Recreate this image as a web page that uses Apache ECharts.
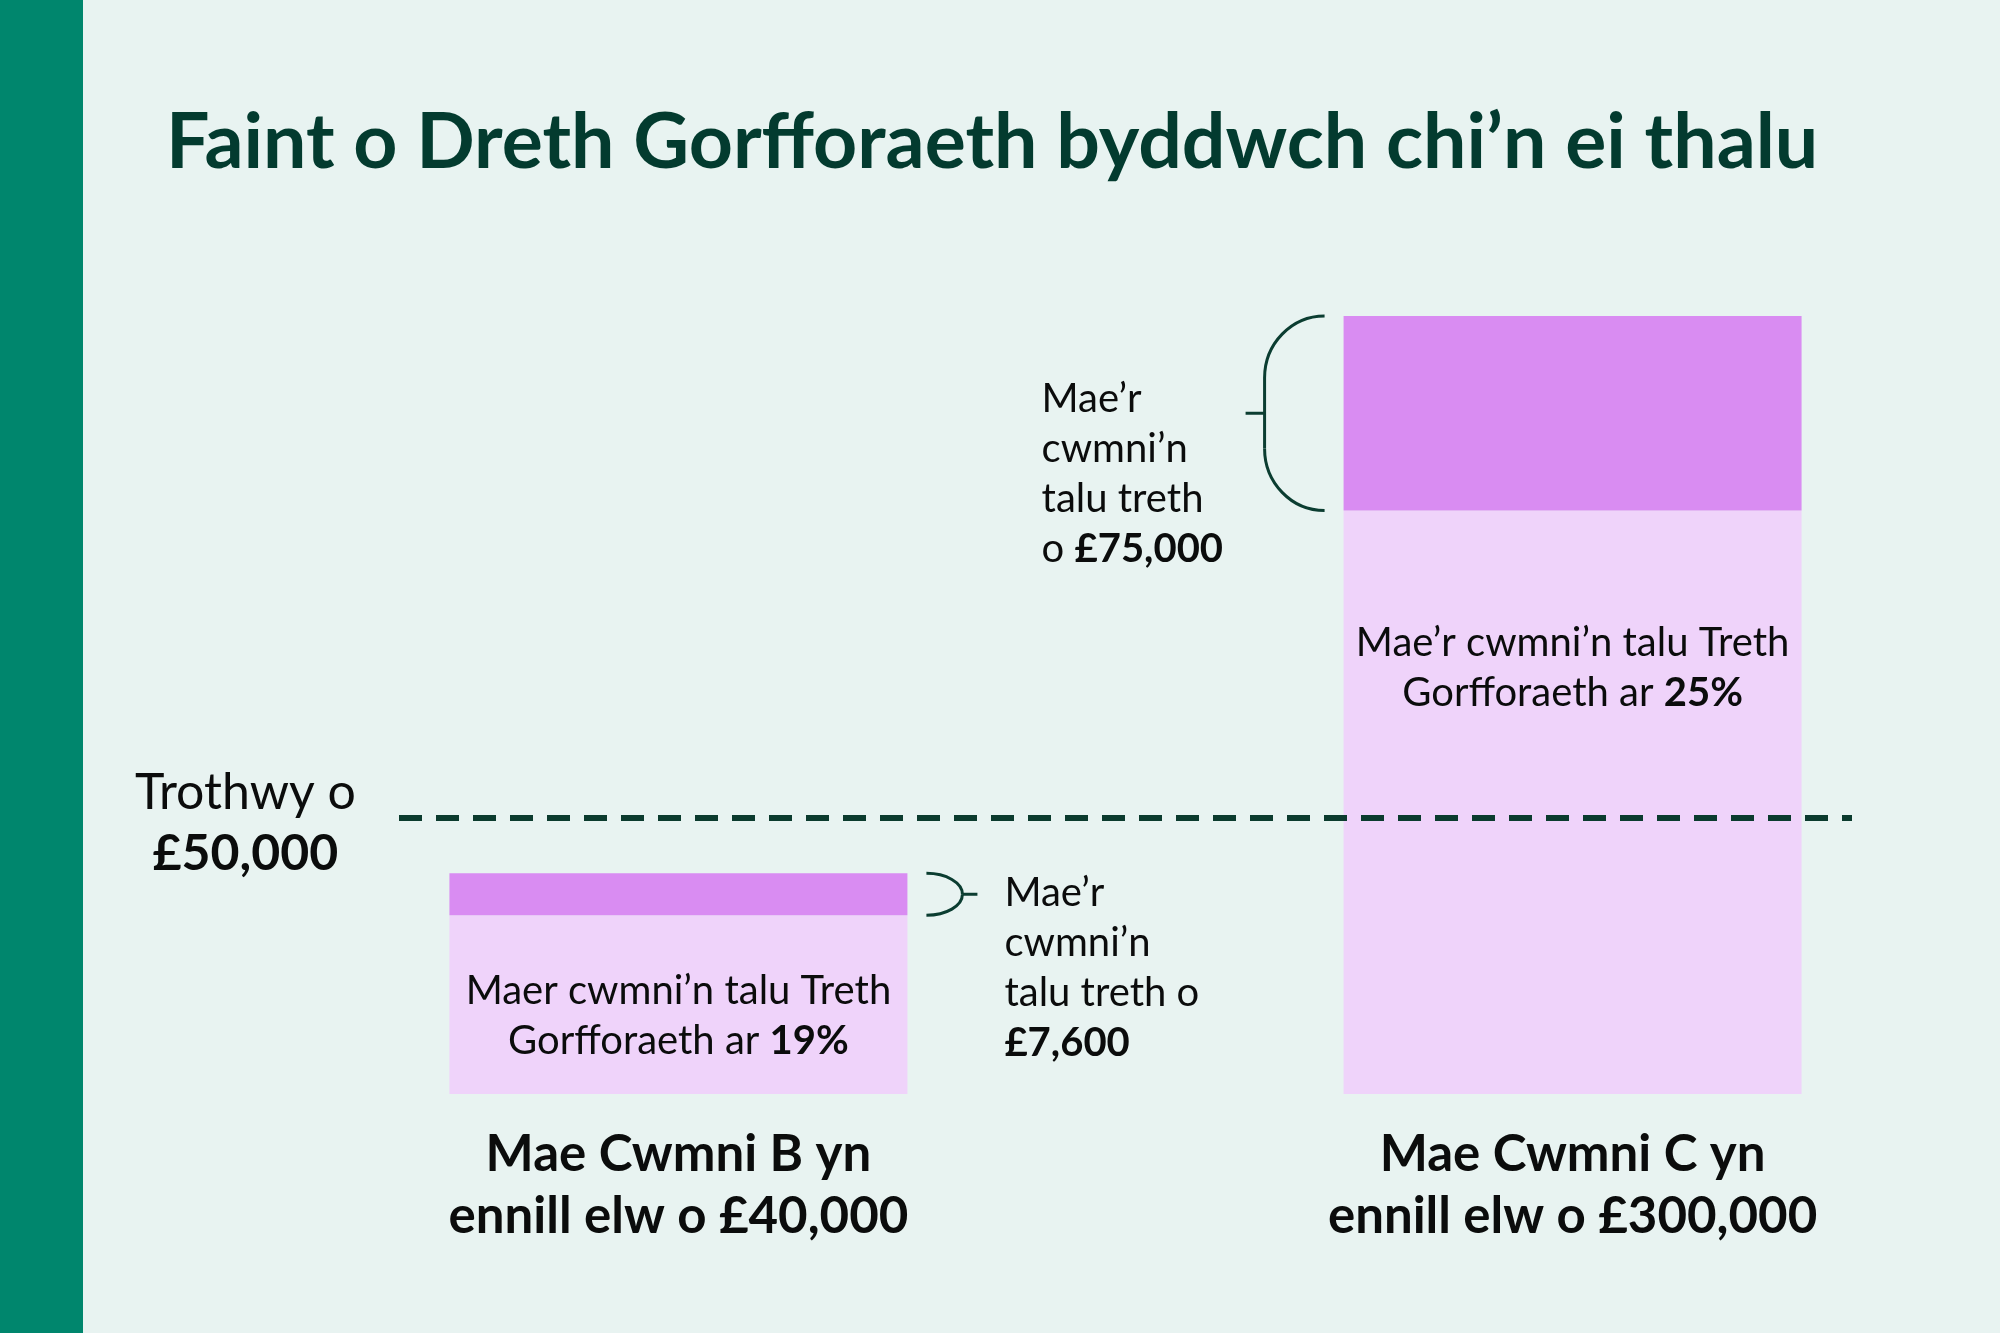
<!DOCTYPE html>
<html>
<head>
<meta charset="utf-8">
<script src="https://cdn.jsdelivr.net/npm/echarts@6/dist/echarts.min.js"></script>
<style>
html,body{margin:0;padding:0;background:#e8f3f1;}
#chart{width:2000px;height:1333px;}
</style>
</head>
<body>
<div id="chart"></div>
<script>
// ---------- data ----------
const titleText = 'Faint o Dreth Gorfforaeth byddwch chi’n ei thalu';
const companyLines1 = ['Mae Cwmni B yn', 'Mae Cwmni C yn'];
const companyLines2 = ['ennill elw o £40,000', 'ennill elw o £300,000'];
const profits = [40000, 300000];
const taxes = [7600, 75000];
const rateLead = ['Maer cwmni’n talu Treth', 'Mae’r cwmni’n talu Treth'];
const rateLine2 = ['Gorfforaeth ar ', 'Gorfforaeth ar '];
const rates = ['19%', '25%'];
const taxNoteLines = [['Mae’r', 'cwmni’n', 'talu treth o', ''], ['Mae’r', 'cwmni’n', 'talu treth', 'o ']];
const taxAmounts = ['£7,600', '£75,000'];
const threshold = 50000;
const thresholdLines = ['Trothwy o', '£50,000'];

// ---------- layout / style ----------
const SLOTS = 13;
const SLOT_OF = [2, 10];
const BAR_W = 458;
const FONT = 'Lato, "Noto Sans", sans-serif';
const TEXT = '#0b0c0c';
const DARKGREEN = '#0b3d31';
const LIGHT = '#efd3fa';
const DARK = '#d98cf2';
const BODY_FS = 40;

function slotData(ci, v) {
  const a = new Array(SLOTS).fill('-');
  a[SLOT_OF[ci]] = v;
  return a;
}
const xData = new Array(SLOTS).fill('');
SLOT_OF.forEach((s, i) => { xData[s] = '{b|' + companyLines1[i] + '}\n{b|' + companyLines2[i] + '}'; });

const richBody = {
  n: { fontSize: BODY_FS, fontFamily: FONT, color: TEXT, lineHeight: 50 },
  b: { fontSize: BODY_FS, fontFamily: FONT, color: TEXT, lineHeight: 50, fontWeight: 'bold' }
};

function rateLabel(ci, pos, dist) {
  return {
    show: true, position: pos, distance: dist,
    formatter: '{n|' + rateLead[ci] + '}\n{n|' + rateLine2[ci] + '}{b|' + rates[ci] + '}',
    rich: richBody
  };
}

// brace annotation configuration (style only)
const braceCfg = [
  { side: 1, gap: 19, rx: 36, r: 30, tick: 15, textDx: 97, textDy: -5 },
  { side: -1, gap: 19, rx: 60, r: 62, tick: 19, textDx: -302, textDy: 58 }
];

function braceRender(ci) {
  const cfg = braceCfg[ci];
  return function (params, api) {
    const cat = api.value(0);
    const pLow = api.coord([cat, api.value(1)]);
    const pHigh = api.coord([cat, api.value(2)]);
    const top = pHigh[1], bot = pLow[1], cx = pLow[0];
    const d = cfg.side;
    const barEdge = cx + d * BAR_W / 2;
    const xe = barEdge + d * cfg.gap;
    const h = bot - top;
    const ry = Math.min(cfg.r, h / 2);
    const xv = xe + d * cfg.rx;
    const k = 0.5523;
    const mid = (top + bot) / 2;
    const ls = { stroke: DARKGREEN, lineWidth: 3, fill: null };
    const children = [
      { type: 'bezierCurve', shape: { x1: xe, y1: top, cpx1: xe + d * k * cfg.rx, cpy1: top, cpx2: xv, cpy2: top + ry - k * ry, x2: xv, y2: top + ry }, style: ls },
      { type: 'bezierCurve', shape: { x1: xv, y1: bot - ry, cpx1: xv, cpy1: bot - ry + k * ry, cpx2: xe + d * k * cfg.rx, cpy2: bot, x2: xe, y2: bot }, style: ls },
      { type: 'line', shape: { x1: xv, y1: mid, x2: xv + d * cfg.tick, y2: mid }, style: ls }
    ];
    if (bot - ry > top + ry) {
      children.push({ type: 'line', shape: { x1: xv, y1: top + ry, x2: xv, y2: bot - ry }, style: ls });
    }
    const lines = taxNoteLines[ci];
    let txt = lines.filter(l => l !== '' && l !== 'o ').map(l => '{n|' + l + '}').join('\n');
    if (lines[3] === 'o ') txt += '\n{n|o }{b|' + taxAmounts[ci] + '}';
    else txt += '\n{b|' + taxAmounts[ci] + '}';
    children.push({
      type: 'text',
      x: barEdge + cfg.textDx, y: top + cfg.textDy,
      style: {
        text: txt, align: 'left', verticalAlign: 'top',
        rich: {
          n: { fontSize: BODY_FS, fontFamily: FONT, fill: TEXT, lineHeight: 50 },
          b: { fontSize: BODY_FS, fontFamily: FONT, fill: TEXT, lineHeight: 50, fontWeight: 'bold' }
        }
      }
    });
    return { type: 'group', children: children };
  };
}

function thresholdRender(params, api) {
  const p = api.coord([api.value(0), api.value(1)]);
  return {
    type: 'text',
    x: p[0] - 433, y: p[1] + 5,
    style: {
      text: '{n|' + thresholdLines[0] + '}\n{b|' + thresholdLines[1] + '}',
      align: 'center', verticalAlign: 'middle',
      rich: {
        n: { fontSize: 50, fontFamily: FONT, fill: TEXT, lineHeight: 61, align: 'center' },
        b: { fontSize: 50, fontFamily: FONT, fill: TEXT, lineHeight: 61, fontWeight: 'bold', align: 'center' }
      }
    }
  };
}

const chart = echarts.init(document.getElementById('chart'), null, { renderer: 'canvas' });
chart.setOption({
  backgroundColor: '#e8f3f1',
  animation: false,
  title: {
    text: titleText, left: 166, top: 105, padding: 0,
    textStyle: { fontSize: 77, fontFamily: FONT, fontWeight: 'bold', color: '#033b2f', lineHeight: 77 }
  },
  graphic: [
    { type: 'rect', left: 0, top: 0, shape: { width: 83, height: 1333 }, style: { fill: '#00866d' }, silent: true }
  ],
  grid: { left: 399, right: 148, top: 316, bottom: 239, containLabel: false },
  xAxis: {
    type: 'category', data: xData,
    axisLine: { show: false }, axisTick: { show: false }, splitLine: { show: false },
    axisLabel: {
      interval: 0, margin: 30,
      rich: { b: { fontSize: 51, fontFamily: FONT, fontWeight: 'bold', color: TEXT, lineHeight: 62 } }
    }
  },
  yAxis: [
    { type: 'value', min: 0, max: 141000, show: false, splitLine: { show: false } },
    { type: 'value', min: 0, max: 300000, show: false, splitLine: { show: false } }
  ],
  series: [
    {
      name: 'B rest', type: 'bar', yAxisIndex: 0, stack: 'profit', barWidth: BAR_W,
      data: slotData(0, profits[0] - taxes[0]), itemStyle: { color: LIGHT },
      label: rateLabel(0, 'insideBottom', 28), silent: true
    },
    {
      name: 'B tax', type: 'bar', yAxisIndex: 0, stack: 'profit', barWidth: BAR_W,
      data: slotData(0, taxes[0]), itemStyle: { color: DARK }, silent: true,
      markLine: {
        silent: true, symbol: 'none', label: { show: false },
        lineStyle: { color: '#0b3b2e', width: 6, type: [23, 14] },
        data: [{ yAxis: threshold }]
      }
    },
    {
      name: 'C rest', type: 'bar', yAxisIndex: 1, stack: 'profit', barWidth: BAR_W,
      data: slotData(1, profits[1] - taxes[1]), itemStyle: { color: LIGHT },
      label: rateLabel(1, 'insideTop', 108), silent: true
    },
    {
      name: 'C tax', type: 'bar', yAxisIndex: 1, stack: 'profit', barWidth: BAR_W,
      data: slotData(1, taxes[1]), itemStyle: { color: DARK }, silent: true
    },
    {
      name: 'B note', type: 'custom', yAxisIndex: 0, silent: true,
      data: [[SLOT_OF[0], profits[0] - taxes[0], profits[0]]], renderItem: braceRender(0)
    },
    {
      name: 'C note', type: 'custom', yAxisIndex: 1, silent: true,
      data: [[SLOT_OF[1], profits[1] - taxes[1], profits[1]]], renderItem: braceRender(1)
    },
    {
      name: 'Threshold', type: 'custom', yAxisIndex: 0, silent: true,
      data: [[SLOT_OF[0], threshold]], renderItem: thresholdRender
    }
  ]
});
</script>
</body>
</html>
